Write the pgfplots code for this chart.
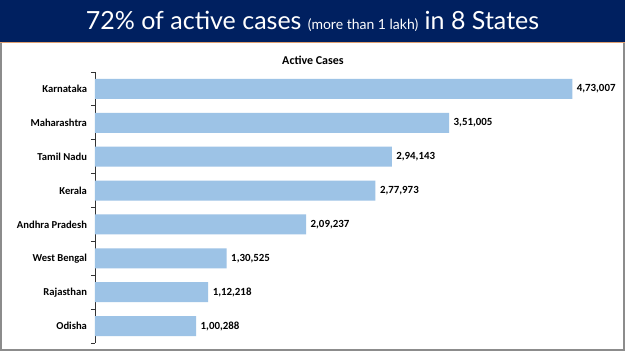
\documentclass[border=0pt]{standalone}
\usepackage{pgfplots}
\pgfplotsset{compat=1.18}
\usepackage{pgfplotstable}
\usepackage{fontspec}
\setmainfont{Carlito}
\newfontfamily\titlefont{Lato}
\definecolor{navy}{HTML}{002060}
\definecolor{barblue}{HTML}{9DC3E6}
\definecolor{orangeline}{HTML}{E0A070}
\definecolor{framegray}{HTML}{8C8C8C}
\pgfplotstableread{
pos value label
0 473007 4,73,007
1 351005 3,51,005
2 294143 2,94,143
3 277973 2,77,973
4 209237 2,09,237
5 130525 1,30,525
6 112218 1,12,218
7 100288 1,00,288
}\datatable
\begin{document}
\begin{tikzpicture}[x=1pt,y=1pt]
\useasboundingbox (0,0) rectangle (625,351);
\fill[white] (0,0) rectangle (625,351);
\fill[navy] (0,309) rectangle (625,351);
\fill[orangeline] (0,308) rectangle (625,309.2);
\draw[framegray,line width=1.6pt] (0.8,0.8) -- (0.8,308) (624,0.8) -- (624,308) (0,0.8) -- (625,0.8);
\node[white,font=\titlefont] at (312.5,330) {\fontsize{25}{28}\selectfont 72\% of active cases {\fontsize{14}{16}\selectfont (more than 1 lakh)} in 8 States};
\node[font=\bfseries\fontsize{12}{14}\selectfont] at (313,291) {Active Cases};
\begin{axis}[
  at={(95pt,8pt)}, anchor=south west,
  scale only axis, width=504.5pt, height=271pt,
  xmin=0, xmax=500000, ymin=-0.5, ymax=7.5,
  y dir=reverse,
  axis x line=none,
  axis y line*=left,
  y axis line style={-, black!80, line width=0.8pt},
  ytick={0,...,7},
  yticklabels={Karnataka,Maharashtra,Tamil Nadu,Kerala,Andhra Pradesh,West Bengal,Rajasthan,Odisha},
  major tick length=0pt,
  yticklabel style={font=\bfseries\fontsize{10.6}{12}\selectfont, xshift=-4.5pt},
  extra y ticks={-0.5,0.5,1.5,2.5,3.5,4.5,5.5,6.5,7.5},
  extra y tick labels={},
  extra y tick style={major tick length=4pt, tick align=outside, tick style={black!80, line width=0.8pt}},
  clip=false,
]
\addplot[xbar, bar width=0.59, fill=barblue, draw=none,
  point meta=explicit symbolic,
  nodes near coords,
  nodes near coords style={font=\bfseries\fontsize{10.9}{12}\selectfont, anchor=west, xshift=1pt}]
  table[x=value, y=pos, meta=label] {\datatable};
\end{axis}
\end{tikzpicture}
\end{document}
